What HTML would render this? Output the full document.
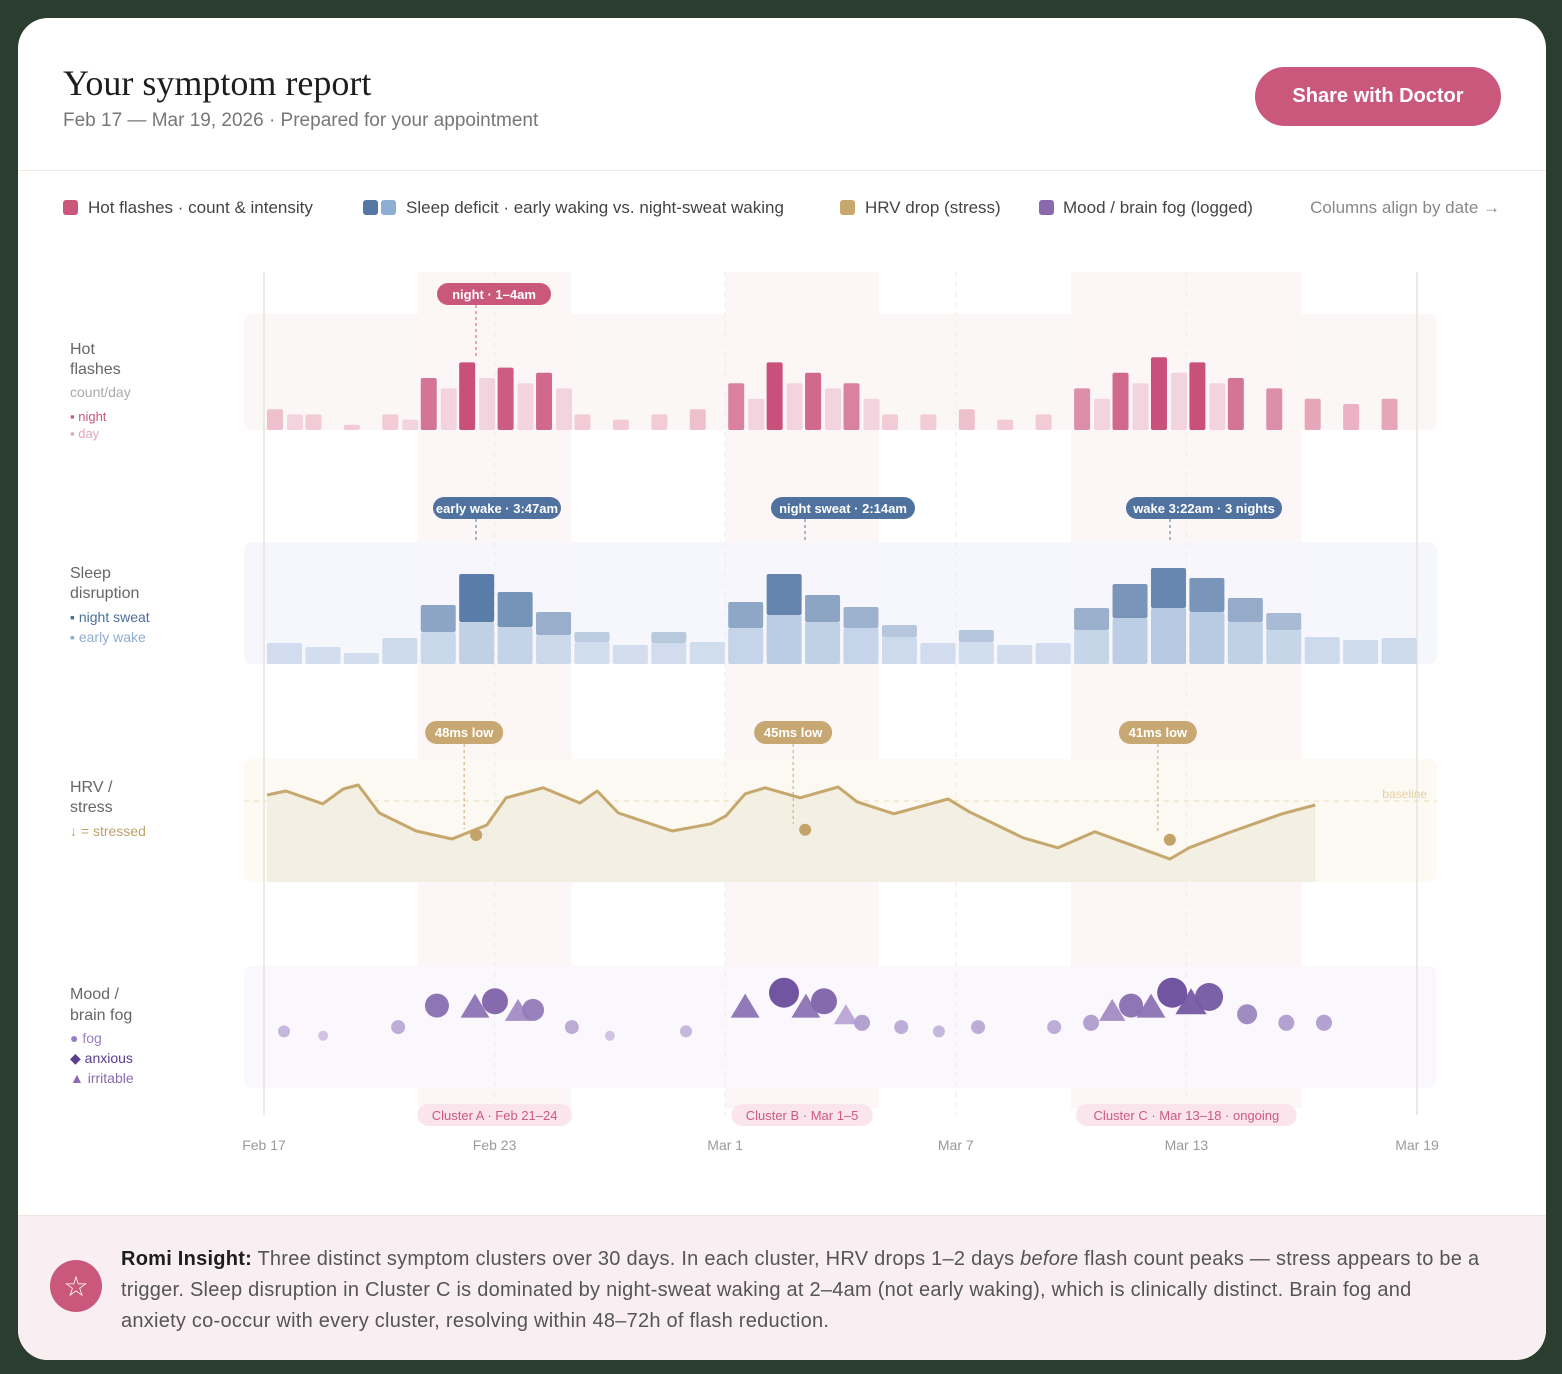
<!DOCTYPE html>
<html><head><meta charset="utf-8">
<style>
*{margin:0;padding:0;box-sizing:border-box}
body{width:1562px;height:1374px;background:#2b3d2f;font-family:"Liberation Sans",sans-serif;position:relative;overflow:hidden}
#card{position:absolute;left:18px;top:18px;width:1528px;height:1342px;background:#fff;border-radius:30px;overflow:hidden}
.abs{position:absolute}
#title{left:45px;top:44px;font-family:"Liberation Serif",serif;font-size:36px;color:#1d1d1d;white-space:nowrap}
#sub{left:45px;top:92px;font-size:19px;color:#777;white-space:nowrap}
#share{left:1237px;top:49px;width:246px;height:59px;border-radius:30px;background:#c9587c;color:#fff;font-size:20px;font-weight:bold;border:none;display:flex;align-items:center;justify-content:center;font-family:"Liberation Sans",sans-serif}
#div{left:0;top:152px;width:1528px;height:1px;background:#ece8e2}
#insight{left:0;top:1197px;width:1528px;height:145px;background:#f9eef1;border-top:1px solid #eee3e0}
#icon{left:32px;top:44px;width:52px;height:52px;border-radius:50%;background:#c9587c;color:#fff;font-size:28px;display:flex;align-items:center;justify-content:center}
#itext{left:103px;top:28px;width:1410px;font-size:20px;line-height:31px;color:#555;letter-spacing:0.25px;white-space:nowrap}
#itext b{color:#1d1d1d}
svg text{font-family:"Liberation Sans",sans-serif}
</style></head><body>
<div id="card">
<div class="abs" id="title">Your symptom report</div>
<div class="abs" id="sub">Feb 17 — Mar 19, 2026 · Prepared for your appointment</div>
<button class="abs" id="share">Share with Doctor</button>
<div class="abs" id="div"></div>
<div class="abs" id="insight">
<div class="abs" id="icon">☆</div>
<div class="abs" id="itext"><b>Romi Insight:</b> Three distinct symptom clusters over 30 days. In each cluster, HRV drops 1–2 days <i>before</i> flash count peaks — stress appears to be a<br>trigger. Sleep disruption in Cluster C is dominated by night-sweat waking at 2–4am (not early waking), which is clinically distinct. Brain fog and<br>anxiety co-occur with every cluster, resolving within 48–72h of flash reduction.</div>
</div>
</div>
<svg id="chart" class="abs" style="left:0;top:0" width="1562" height="1374"></svg>
<script>
const dayLabels=["Feb 17","Feb 23","Mar 1","Mar 7","Mar 13","Mar 19"];
const dayTicks=[0,6,12,18,24,30];
const clusterStart=[4,12,21];
const clusterEnd=[8,16,27];
const clusterNames=["Cluster A · Feb 21–24","Cluster B · Mar 1–5","Cluster C · Mar 13–18 · ongoing"];
const flashNight=[4,3,1,3,10,13,12,11,3,2,3,4,9,13,11,9,3,3,4,2,3,8,11,14,13,10,8,6,5,6];
const flashDay=[3,0,0,2,8,10,9,8,0,0,0,0,6,9,8,6,0,0,0,0,0,6,9,11,9,0,0,0,0,0];
const earlyWake=[2.1,1.7,1.1,2.6,3.2,4.2,3.7,2.9,2.2,1.9,2.1,2.2,3.6,4.9,4.2,3.6,2.7,2.1,2.2,1.9,2.1,3.4,4.6,5.6,5.2,4.2,3.4,2.7,2.4,2.6];
const nightSweat=[0,0,0,0,2.7,4.8,3.5,2.3,1.0,0,1.1,0,2.6,4.1,2.7,2.1,1.2,0,1.2,0,0,2.2,3.4,4.0,3.4,2.4,1.7,0,0,0];
const hrvDay=[0.08,0.57,1.53,2.06,2.45,3.0,3.96,4.89,5.8,6.3,7.26,8.22,8.67,9.22,10.62,11.63,12.02,12.52,13.04,13.95,14.94,15.43,16.39,17.8,18.35,19.75,20.66,21.62,23.57,24.07,25.08,26.49,27.35];
const hrvVals=[56.5,57.5,54.3,58,59,52,47.5,45.5,49,55.8,58.3,54.5,57.5,52,47.5,49.3,51.3,56.8,58.3,55.8,58.5,54.8,51.8,55.5,52.3,45.8,43.3,47.3,40.5,43.3,47,51.8,54];
const hrvBaseline=55;
const hrvLowDay=[5.52,14.08,23.57];
const hrvLowVal=[46.5,47.8,45.3];
const hrvLowLabel=["48ms low","45ms low","41ms low"];
const moodDay=[0.52,1.54,3.49,4.5,5.49,6.01,6.61,7.0,8.01,9.0,10.98,12.52,13.53,14.1,14.57,15.14,15.56,16.58,17.56,18.58,20.56,21.52,22.07,22.56,23.08,23.63,24.12,24.59,25.58,26.6,27.58];
const moodType=["c","c","c","c","t","c","t","c","c","c","c","t","c","t","c","t","c","c","c","c","c","c","t","c","t","c","t","c","c","c","c"];
const moodSev=[2,1,3,8,8,9,7,7,3,1,2,8,11,8,9,6,4,3,2,3,3,4,7,8,8,11,9,10,6,4,4];

const svg=document.getElementById('chart');
const NS='http://www.w3.org/2000/svg';
const X0=264,X1=1417,ND=30;
const xd=d=>X0+(X1-X0)*d/ND;
function mk(tag,at,parent){const e=document.createElementNS(NS,tag);for(const k in at)e.setAttribute(k,at[k]);(parent||svg).appendChild(e);return e;}
function txt(s,x,y,at){const e=mk('text',Object.assign({x:x,y:y},at));e.textContent=s;return e;}
function lerpC(a,b,t){t=Math.max(0,Math.min(1,t));const pa=a.match(/\w\w/g).map(h=>parseInt(h,16)),pb=b.match(/\w\w/g).map(h=>parseInt(h,16));return 'rgb('+pa.map((v,i)=>Math.round(v+(pb[i]-v)*t)).join(',')+')';}
let e;
const leg=[[63,'#c9587c',"Hot flashes · count & intensity",88],[363,'#5577a3',null,0],[381,'#8eadd2',"Sleep deficit · early waking vs. night-sweat waking",406],[840,'#c8a86e',"HRV drop (stress)",865],[1039,'#8a6aae',"Mood / brain fog (logged)",1063]];
leg.forEach(l=>{e=mk('rect',{x:l[0],y:200,width:15,height:15,rx:3,fill:l[1]});
if(l[2]){e=txt(l[2],l[3],213,{'font-size':17,fill:'#444'});}});
e=txt("Columns align by date →",1500,213,{'font-size':17,fill:'#888','text-anchor':'end'});

clusterStart.forEach((s,i)=>{e=mk('rect',{x:xd(s),y:272,width:xd(clusterEnd[i])-xd(s),height:836,fill:'#fdf6f7'});
});
const panels=[[314,430,'#fcf6f6','hot-flash-panel'],[542,664,'#f5f6fc','sleep-panel'],[759,882,'#fcf9f1','hrv-panel'],[966,1088,'#f9f7fd','mood-panel']];
panels.forEach(p=>{e=mk('rect',{x:244,y:p[0],width:1193,height:p[1]-p[0],rx:8,fill:p[2],opacity:0.9});
});
dayTicks.forEach((d,i)=>{const edge=(i==0||i==dayTicks.length-1);
e=mk('line',{x1:xd(d),x2:xd(d),y1:272,y2:1115,stroke:edge?'#e6e3dc':'#efece8','stroke-width':edge?1.5:1,'stroke-dasharray':edge?'none':'5 5'});

e=txt(dayLabels[i],xd(d),1150,{'font-size':14,fill:'#9a9a9a','text-anchor':'middle'});
});
function lab(s,y,size,fill,name){e=txt(s,70,y,{'font-size':size,fill:fill});}
lab("Hot",354,16,'#666','row-label');lab("flashes",374,16,'#666','row-label');lab("count/day",397,14,'#aaa','row-unit');
lab("▪ night",421,13,'#c9587c','legend-night');lab("▪ day",438,13,'#e8a3b8','legend-day');
lab("Sleep",578,16,'#666','row-label');lab("disruption",598,16,'#666','row-label');
lab("▪ night sweat",622,14,'#4d6f9c','legend-night-sweat');lab("▪ early wake",642,14,'#8eadd2','legend-early-wake');
lab("HRV /",792,16,'#666','row-label');lab("stress",812,16,'#666','row-label');lab("↓ = stressed",836,14,'#c0a06a','legend-stressed');
lab("Mood /",999,16,'#666','row-label');lab("brain fog",1020,16,'#666','row-label');
lab("● fog",1043,14,'#9a7fc0','legend-fog');lab("◆ anxious",1063,14,'#5a3d8f','legend-anxious');lab("▲ irritable",1083,14,'#8a6aae','legend-irritable');
const HB=430,HU=5.2;
flashNight.forEach((v,i)=>{if(v<=0)return;const h=v*HU;
e=mk('rect',{x:xd(i)+3,y:HB-h,width:16,height:h,rx:2,fill:lerpC('f2cbd6','c8507a',(v-3)/10)});
});
flashDay.forEach((v,i)=>{if(v<=0)return;const h=v*HU;
e=mk('rect',{x:xd(i)+23,y:HB-h,width:16,height:h,rx:2,fill:'#f3d3dd'});
});
const SB=664,SU=10;
earlyWake.forEach((v,i)=>{const h=v*SU;
e=mk('rect',{x:xd(i)+3,y:SB-h,width:35,height:h,rx:2,fill:lerpC('d2deee','b5c9e2',(v-2)/3.5)});

const n=nightSweat[i];if(n>0){const h2=n*SU;
e=mk('rect',{x:xd(i)+3,y:SB-h-h2,width:35,height:h2,rx:2,fill:lerpC('bccbdf','5a7ca8',(n-1)/3.5)});
}});
const yh=v=>801-(v-hrvBaseline)*4;
e=mk('line',{x1:244,x2:1437,y1:yh(hrvBaseline),y2:yh(hrvBaseline),stroke:'#e8dcc0','stroke-dasharray':'5 5'});

e=txt("baseline",1427,798,{'font-size':12,fill:'#e3cfa5','text-anchor':'end'});

let pts=hrvDay.map((d,i)=>xd(d).toFixed(1)+','+yh(hrvVals[i]).toFixed(1));
const lastX=xd(hrvDay[hrvDay.length-1]);
e=mk('polygon',{points:xd(hrvDay[0])+',882 '+pts.join(' ')+' '+lastX+',882',fill:'#f4efe3'});

e=mk('polyline',{points:pts.join(' '),fill:'none',stroke:'#c6a76d','stroke-width':3,'stroke-linejoin':'round'});

hrvLowDay.forEach((d,i)=>{const cx=xd(d),cy=yh(hrvLowVal[i]);
e=mk('line',{x1:cx-12,x2:cx-12,y1:744,y2:cy-6,stroke:'#c8a86e','stroke-dasharray':'3 3'});

e=mk('circle',{cx:cx,cy:cy,r:6,fill:'#c4a36a'});

e=mk('rect',{x:cx-12-39,y:721,width:78,height:23,rx:11.5,fill:'#c8a872'});

e=txt(hrvLowLabel[i],cx-12,737,{'font-size':13,'font-weight':'bold',fill:'#fff','text-anchor':'middle'});
});
moodDay.forEach((d,i)=>{const s=moodSev[i],cx=xd(d),cy=1040-4.3*s,r=4+s;
if(moodType[i]=='c'){e=mk('circle',{cx:cx,cy:cy,r:r,fill:lerpC('cdc0e2','6a4c9c',(s-1)/10),opacity:0.95});
}
else{const hh=r*2.0;e=mk('polygon',{points:(cx)+','+(cy-hh/2)+' '+(cx+hh*0.6)+','+(cy+hh/2)+' '+(cx-hh*0.6)+','+(cy+hh/2),fill:lerpC('b7a0d2','6e4f9f',(s-6)/3),opacity:0.9});
}
});
function pill(s,cx,cy,w,fill,lx,ly2,name){
e=mk('line',{x1:lx,x2:lx,y1:cy+11,y2:ly2,stroke:fill,'stroke-dasharray':'3 3'});

e=mk('rect',{x:cx-w/2,y:cy-11,width:w,height:22,rx:11,fill:fill});

e=txt(s,cx,cy+5,{'font-size':13,'font-weight':'bold',fill:'#fff','text-anchor':'middle'});
}
pill("night · 1–4am",494,294,114,'#c9587c',476,356,'night-annotation');
pill("early wake · 3:47am",497,508,128,'#50729f',476,541,'early-wake-annotation');
pill("night sweat · 2:14am",843,508,144,'#50729f',805,541,'night-sweat-annotation');
pill("wake 3:22am · 3 nights",1204,508,156,'#50729f',1170,541,'wake-annotation');
clusterStart.forEach((s,i)=>{const w=clusterNames[i].length*6.6+16;const cx=(xd(s)+xd(clusterEnd[i]))/2;
e=mk('rect',{x:cx-w/2,y:1104,width:w,height:22,rx:11,fill:'#fbe5ec'});

e=txt(clusterNames[i],cx,1120,{'font-size':13,fill:'#cc5a80','text-anchor':'middle'});
});
</script>
</body></html>
